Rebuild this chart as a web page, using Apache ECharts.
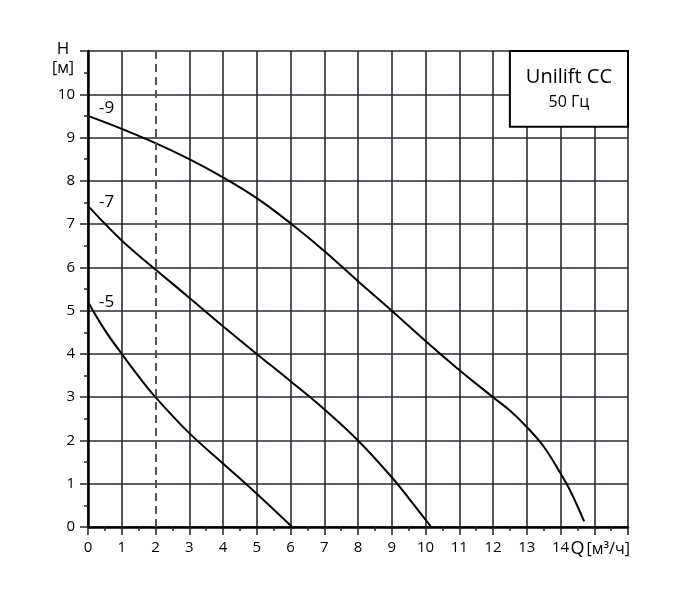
<!DOCTYPE html>
<html>
  <head>
    <meta charset="utf-8" />
    <title>Unilift CC 50 Гц</title>
    <script src="https://cdn.jsdelivr.net/npm/echarts@6/dist/echarts.min.js"></script>
    <style>
      html, body { margin: 0; padding: 0; background: #fff; }
    </style>
  </head>
  <body>
    <div id="main" style="width: 700px; height: 600px"></div>
    <script type="text/javascript">
      // Q [м³/ч] / H [м] points
      var pumpNames = ['-9', '-7', '-5'];
      var q9 = [0, 1, 2, 3, 4, 5, 6, 7, 8, 9, 10, 11, 12, 12.5, 13, 13.5, 14, 14.3, 14.7];
      var h9 = [9.5, 9.2, 8.87, 8.5, 8.08, 7.6, 7.02, 6.38, 5.68, 5.0, 4.3, 3.63, 3.0, 2.69, 2.31, 1.86, 1.24, 0.82, 0.13];
      var q7 = [0, 1, 2, 3, 4, 5, 6, 7, 8, 9, 9.5, 10.17];
      var h7 = [7.42, 6.62, 5.95, 5.3, 4.64, 4.0, 3.37, 2.72, 2.0, 1.15, 0.67, 0];
      var q5 = [0, 0.5, 1, 1.5, 2, 3, 4, 5, 6.05];
      var h5 = [5.2, 4.55, 4.0, 3.48, 3.0, 2.17, 1.47, 0.77, 0];

      // where the curve names sit
      var nameQ = [0.55, 0.55, 0.55];
      var nameH = [9.67, 7.51, 5.2];

      var qRange = [0, 16];
      var hRange = [0, 11];
      var dutyQ = 2; // dashed reference line
      var boxFrom = [12.5, 9.25];
      var boxTo = [16, 11];
      var boxTitle = 'Unilift CC';
      var boxSub = '50 Гц';

      var FONT = '"Open Sans", "DejaVu Sans", sans-serif';
      var GRID = '#2a2a33';

      function pairs(xs, ys) {
        return xs.map(function (x, i) { return [x, ys[i]]; });
      }

      // one colour per vertical grid line, the dashed one replaces its solid line
      var vLineColors = [];
      for (var q = qRange[0]; q <= qRange[1]; q++) {
        vLineColors.push(q === dutyQ ? 'rgba(0,0,0,0)' : GRID);
      }

      var curves = [pairs(q9, h9), pairs(q7, h7), pairs(q5, h5)];

      var series = curves.map(function (d, i) {
        return {
          name: pumpNames[i],
          type: 'line',
          data: d,
          smooth: 0.4,
          symbol: 'none',
          silent: true,
          z: 3,
          lineStyle: { color: '#000', width: 2 },
          markPoint: {
            symbol: 'circle',
            symbolSize: 0,
            silent: true,
            data: [{ coord: [nameQ[i], nameH[i]], value: pumpNames[i] }],
            label: {
              show: true,
              formatter: pumpNames[i],
              color: '#000',
              fontSize: 17,
              fontFamily: FONT
            }
          }
        };
      });

      // dashed line and the title box sit on the first curve
      series[0].markLine = {
        silent: true,
        symbol: ['none', 'none'],
        label: { show: false },
        lineStyle: { color: '#555', width: 2, type: [8, 5], opacity: 1 },
        data: [[{ coord: [dutyQ, hRange[0]] }, { coord: [dutyQ, hRange[1]] }]]
      };
      series[0].markArea = {
        silent: true,
        itemStyle: { color: '#fff', borderColor: '#000', borderWidth: 2, opacity: 1 },
        label: {
          show: true,
          position: 'inside',
          formatter: '{t|' + boxTitle + '}\n{s|' + boxSub + '}',
          rich: {
            t: { fontSize: 20, fontFamily: FONT, color: '#000', lineHeight: 28 },
            s: { fontSize: 16, fontFamily: FONT, color: '#000', lineHeight: 24 }
          }
        },
        data: [[{ coord: boxFrom }, { coord: boxTo }]]
      };

      var myChart = echarts.init(document.getElementById('main'));

      var option = {
        animation: false,
        backgroundColor: '#fff',
        grid: { left: 88, right: 72, top: 51, bottom: 73 },
        xAxis: {
          type: 'value',
          min: qRange[0],
          max: qRange[1],
          interval: 1,
          axisLine: { show: true, onZero: false, lineStyle: { color: '#000', width: 2.5 } },
          axisTick: { show: true, inside: false, length: 8, lineStyle: { color: '#222', width: 1.5 } },
          minorTick: { show: true, splitNumber: 2, length: 4, lineStyle: { color: '#222', width: 1.5 } },
          splitLine: { show: true, lineStyle: { color: vLineColors, width: 1.6 } },
          axisLabel: {
            margin: 13,
            color: '#000',
            fontSize: 15,
            fontFamily: FONT,
            showMaxLabel: true,
            formatter: function (v) {
              if (v === 15) return '{q|Q}{u|[м³/ч]}';
              if (v > 15) return '';
              return v;
            },
            rich: {
              q: { fontSize: 18, fontFamily: FONT, color: '#000', padding: [0, 2, 0, 12] },
              u: { fontSize: 16, fontFamily: FONT, color: '#000' }
            }
          }
        },
        yAxis: {
          type: 'value',
          min: hRange[0],
          max: hRange[1],
          interval: 1,
          name: '{h|H}\n{u|[м]}',
          nameLocation: 'end',
          nameGap: -27,
          nameTextStyle: {
            padding: [0, 50, 0, 0],
            rich: {
              h: { fontSize: 17, fontFamily: FONT, color: '#000', align: 'center', lineHeight: 19 },
              u: { fontSize: 16, fontFamily: FONT, color: '#000', align: 'center', lineHeight: 19 }
            }
          },
          axisLine: { show: true, onZero: false, lineStyle: { color: '#000', width: 2.5 } },
          axisTick: { show: true, inside: false, length: 8, lineStyle: { color: '#222', width: 1.5 } },
          minorTick: { show: true, splitNumber: 2, length: 4, lineStyle: { color: '#222', width: 1.5 } },
          splitLine: { show: true, lineStyle: { color: GRID, width: 1.6 } },
          axisLabel: {
            margin: 13,
            color: '#000',
            fontSize: 15,
            fontFamily: FONT,
            formatter: function (v) {
              return v === 11 ? '' : v;
            }
          }
        },
        series: series
      };

      myChart.setOption(option);
    </script>
  </body>
</html>
